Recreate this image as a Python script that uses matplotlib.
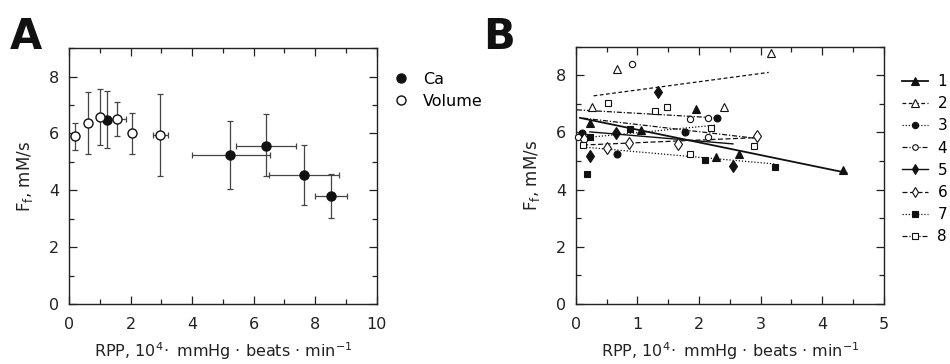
import matplotlib
matplotlib.use('Agg')
import matplotlib.pyplot as plt
from matplotlib.ticker import MultipleLocator
from matplotlib.lines import Line2D

plt.rcParams['font.family'] = ['DejaVu Sans']
plt.rcParams['mathtext.fontset'] = 'dejavusans'

# panel A: mean +- error, x in 10^4 units
vol_x = [0.20, 0.61, 1.00, 1.57, 2.06, 2.97]
vol_y = [5.90, 6.37, 6.59, 6.52, 6.02, 5.95]
vol_yerr_lo = [0.47, 1.10, 0.99, 0.60, 0.73, 1.46]
vol_yerr_hi = [0.48, 1.10, 0.96, 0.58, 0.71, 1.44]
vol_xerr = [0.0, 0.0, 0.0, 0.27, 0.0, 0.24]

ca_x = [1.25, 5.24, 6.39, 7.65, 8.50]
ca_y = [6.47, 5.24, 5.57, 4.55, 3.79]
ca_yerr_lo = [1.00, 1.19, 1.08, 1.07, 0.75]
ca_yerr_hi = [1.03, 1.18, 1.10, 1.05, 0.77]
ca_xerr_lo = [0.0, 1.24, 0.97, 1.14, 0.52]
ca_xerr_hi = [0.0, 1.28, 1.00, 1.13, 0.54]

# panel B: individual animals, points + fitted line end points
b_names = ['1', '2', '3', '4', '5', '6', '7', '8']
b_x = [
    [0.23, 1.06, 1.95, 2.28, 2.65, 4.34],
    [0.26, 0.67, 2.41, 3.17],
    [0.10, 0.67, 1.78, 2.29],
    [0.03, 0.17, 0.91, 1.86, 2.14, 2.15],
    [0.23, 0.66, 1.33, 2.55],
    [0.13, 0.51, 0.87, 1.66, 2.94],
    [0.18, 0.23, 0.88, 2.09, 3.23],
    [0.12, 0.52, 1.28, 1.48, 1.85, 2.19, 2.90],
]
b_y = [
    [6.32, 6.09, 6.81, 5.15, 5.25, 4.69],
    [6.90, 8.22, 6.90, 8.77],
    [5.97, 5.24, 6.03, 6.51],
    [5.85, 5.85, 8.40, 6.46, 6.52, 5.83],
    [5.19, 5.97, 7.41, 4.84],
    [5.78, 5.46, 5.63, 5.60, 5.88],
    [4.55, 5.85, 6.13, 5.05, 4.79],
    [5.55, 7.04, 6.75, 6.88, 5.25, 6.15, 5.53],
]
fit_x = [(0.07, 4.39), (0.29, 3.13), (0.12, 2.29), (0.02, 2.29),
         (0.23, 2.55), (0.12, 2.94), (0.12, 3.22), (0.12, 2.90)]
fit_y = [(6.51, 4.59), (7.28, 8.10), (5.81, 6.26), (6.79, 6.51),
         (6.02, 5.60), (5.56, 5.82), (5.49, 4.90), (6.50, 5.80)]

markers = ['^', '^', 'o', 'o', 'd', 'd', 's', 's']
filled = [True, False, True, False, True, False, True, False]
msizes = [5.5, 5.5, 4.5, 4, 5.5, 5.5, 4.5, 4]
lstyles = ['-', (0, (3, 2)), (0, (1, 1.5)), (0, (4, 1.5, 1, 1.5)),
           '-', (0, (4, 2)), (0, (1, 1.5)), (0, (4, 1.5, 1, 1.5))]
lwidths = [1.3, 0.9, 0.9, 0.9, 1.0, 0.9, 0.9, 0.9]

xlabel = r'RPP, $10^4\!\cdot$ mmHg $\cdot$ beats $\cdot$ min$^{-1}$'
ylabel = r'F$_\mathrm{f}$, mM/s'

fig = plt.figure(figsize=(9.5, 3.64), dpi=100)
axA = fig.add_axes([0.0726, 0.1648, 0.324, 0.703])
axB = fig.add_axes([0.606, 0.1648, 0.3245, 0.707])


def style_axes(ax, xmax, xmaj):
    ax.set_xlim(0, xmax)
    ax.set_ylim(0, 9)
    ax.xaxis.set_major_locator(MultipleLocator(xmaj))
    ax.xaxis.set_minor_locator(MultipleLocator(xmaj / 2))
    ax.yaxis.set_major_locator(MultipleLocator(2))
    ax.yaxis.set_minor_locator(MultipleLocator(1))
    ax.tick_params(which='both', direction='in', top=True, right=True,
                   labelsize=11.5, colors='#222222', width=0.9)
    ax.tick_params(which='major', length=6)
    ax.tick_params(axis='x', which='major', pad=9)
    ax.tick_params(axis='y', which='major', pad=7)
    ax.tick_params(which='minor', length=3.5)
    for sp in ax.spines.values():
        sp.set_linewidth(1.0)
        sp.set_color('#222222')
    ax.set_xlabel(xlabel, fontsize=11.5, color='#222222', labelpad=6)
    ax.set_ylabel(ylabel, fontsize=12, color='#222222', labelpad=10)


# ---- A
axA.errorbar(vol_x, vol_y, yerr=[vol_yerr_lo, vol_yerr_hi], xerr=vol_xerr,
             fmt='none', ecolor='#444444', elinewidth=0.9, capsize=2.2,
             capthick=0.9, zorder=2)
axA.errorbar(ca_x, ca_y, yerr=[ca_yerr_lo, ca_yerr_hi],
             xerr=[ca_xerr_lo, ca_xerr_hi], fmt='none', ecolor='#444444',
             elinewidth=0.9, capsize=2.2, capthick=0.9, zorder=2)
axA.plot(ca_x, ca_y, 'o', ms=6.5, mfc='#111111', mec='#111111', zorder=3,
         label='Ca')
axA.plot(vol_x, vol_y, 'o', ms=6.5, mfc='white', mec='#111111', mew=1.0,
         zorder=4, label='Volume')
style_axes(axA, 10, 2)
axA.legend(loc='upper left', bbox_to_anchor=(1.0, 0.97), frameon=False,
           fontsize=11.5, handlelength=1.0, handletextpad=0.9,
           labelspacing=0.45, borderaxespad=0.6)

# ---- B
handles = []
for i in range(8):
    fc = '#111111' if filled[i] else 'white'
    axB.plot(fit_x[i], fit_y[i], color='#111111', ls=lstyles[i],
             lw=lwidths[i], zorder=2)
    axB.plot(b_x[i], b_y[i], ls='none', marker=markers[i], ms=msizes[i] + 0.5,
             mfc=fc, mec='#111111', mew=0.8, zorder=3, clip_on=False)
    handles.append(Line2D([], [], color='#111111', ls=lstyles[i],
                          lw=lwidths[i], marker=markers[i], ms=msizes[i],
                          mfc=fc, mec='#111111', mew=0.8))
style_axes(axB, 5, 1)
axB.xaxis.set_minor_locator(MultipleLocator(0.5))
axB.legend(handles, b_names, loc='upper left', bbox_to_anchor=(1.0, 0.965),
           frameon=False, fontsize=11, handlelength=1.7,
           handletextpad=0.6, labelspacing=0.47, borderaxespad=0.9,
           borderpad=0.3)

fig.text(0.010, 0.955, 'A', fontsize=30, fontweight='bold', va='top',
         color='#111111')
fig.text(0.509, 0.955, 'B', fontsize=30, fontweight='bold', va='top',
         color='#111111')

fig.savefig('out.png', dpi=100)
